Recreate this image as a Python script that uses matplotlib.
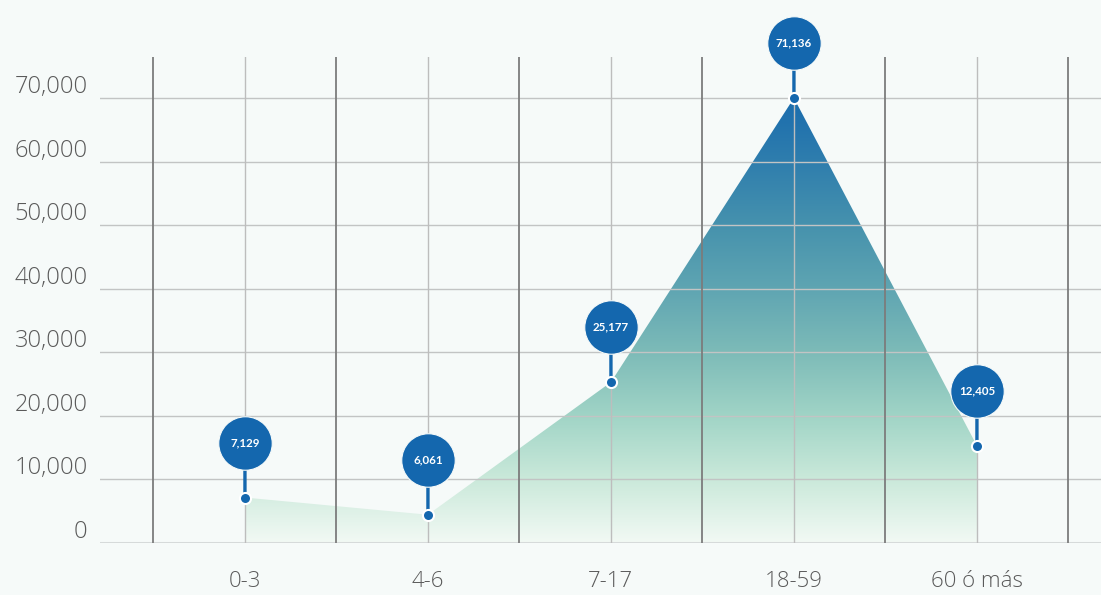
import matplotlib
matplotlib.use("Agg")
import matplotlib.pyplot as plt
import matplotlib.transforms as mtransforms
from matplotlib.colors import LinearSegmentedColormap
import numpy as np

# ---- data ----
categories = ["0-3", "4-6", "7-17", "18-59", "60 ó más"]
plotted_values = [7150, 4450, 25300, 70000, 15300]      # marker heights as drawn
badge_labels = ["7,129", "6,061", "25,177", "71,136", "12,405"]
y_ticks = [0, 10000, 20000, 30000, 40000, 50000, 60000, 70000]
y_tick_labels = ["0", "10,000", "20,000", "30,000", "40,000", "50,000", "60,000", "70,000"]

BG = "#f6faf9"
BLUE = "#1467ae"
TXT = "#5a5a5a"
FONT = ["Open Sans", "DejaVu Sans"]
BFONT = ["Lato", "DejaVu Sans"]

fig = plt.figure(figsize=(11.01, 5.95), dpi=100, facecolor=BG)
ax = fig.add_axes([100 / 1101, 52 / 595, 1001 / 1101, 486 / 595])
ax.set_facecolor(BG)

x = np.arange(len(categories))

for s in ax.spines.values():
    s.set_visible(False)

# gradient fill
cmap = LinearSegmentedColormap.from_list("g", [
    (0.0, "#f2f9f4"), (1/7, "#cae9da"), (2/7, "#a0d4c6"), (3/7, "#7dbbb8"),
    (4/7, "#5fa5b2"), (5/7, "#4692ad"), (6/7, "#2f7eae"), (1.0, "#1a6cad")])
poly = ax.fill_between(x, plotted_values, 0, color="none", lw=0)
grad = np.linspace(0, 1, 256).reshape(-1, 1)
im = ax.imshow(grad, cmap=cmap, origin="lower", aspect="auto",
               extent=[x[0], x[-1], 0, max(plotted_values)], zorder=1)
path = poly.get_paths()[0]
im.set_clip_path(path, ax.transData)
ax.set_xlim(-0.792, 4.678)
ax.set_ylim(0, 76450)

# grid lines
for yv in y_ticks[1:]:
    ax.axhline(yv, color="#c2c4c4", lw=1, zorder=2)
ax.axhline(0, color="#d6dada", lw=2.2, zorder=2)
for xv in np.arange(-0.5, len(categories), 1.0):
    ax.axvline(xv, color="#7c7c7c", lw=1.3, zorder=2)
for xv in x:
    ax.axvline(xv, color="#bdbdbd", lw=1, zorder=2)

# ticks
ax.set_xticks(x)
ax.set_xticklabels(categories, fontsize=16, color=TXT, family=FONT, fontweight="light")
ax.set_yticks(y_ticks)
ax.set_yticklabels(y_tick_labels, fontsize=17, color=TXT, family=FONT, fontweight="light")
ax.tick_params(axis="both", length=0)
ax.tick_params(axis="x", pad=20)
ax.tick_params(axis="y", pad=9)
off = mtransforms.ScaledTranslation(0, 14 / 100, fig.dpi_scale_trans)
for lab in ax.get_yticklabels():
    lab.set_transform(lab.get_transform() + off)

# stems, markers, badges
badge_tr = mtransforms.offset_copy(ax.transData, fig=fig, x=0, y=55, units="dots")
for xi, yi, lab in zip(x, plotted_values, badge_labels):
    ax.annotate("", xy=(xi, yi), xytext=(0, 40), textcoords="offset pixels",
                arrowprops=dict(arrowstyle="-", lw=2.4, color=BLUE, shrinkA=0, shrinkB=0),
                zorder=4, annotation_clip=False)
    ax.plot([xi], [yi], "o", ms=38.5, color=BLUE, mec=BG, mew=0.8,
            transform=badge_tr, clip_on=False, zorder=5)
    ax.text(xi, yi, lab, transform=badge_tr, ha="center", va="center",
            color="white", fontsize=8.3, fontweight="bold", family=BFONT,
            zorder=6, clip_on=False)
ax.plot(x, plotted_values, "o", ms=8, color=BLUE, mec="white", mew=1.5,
        zorder=6, clip_on=False, ls="none")

fig.savefig("out.png", dpi=100, facecolor=BG)
